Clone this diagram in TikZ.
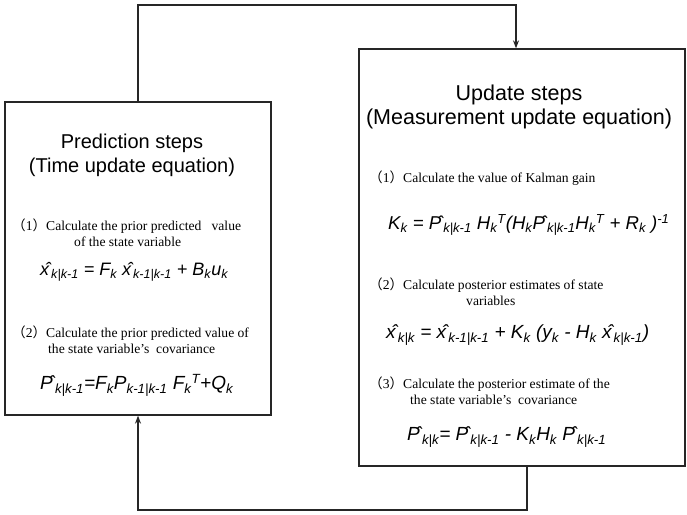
\documentclass[tikz,border=0pt]{standalone}
\usepackage{fontspec}
\setmainfont{Liberation Serif}
\newfontfamily\arialfont{Liberation Sans}
\newfontfamily\cjk{Noto Sans CJK SC}
\usetikzlibrary{arrows.meta, positioning}
\newcommand{\est}[1]{#1\kern-0.22em{\char"02C6}}
\newcommand{\sub}[1]{\textsubscript{#1}}
\newcommand{\sups}[1]{\textsuperscript{#1}}
\newcommand{\stepno}[1]{{\cjk （}#1{\cjk ）}}

\begin{document}
\begin{tikzpicture}[x=1pt, y=-1pt,
    panel/.style={draw=black!85, line width=1.3pt, inner sep=0pt},
    title/.style={font=\arialfont\fontsize{20}{24}\selectfont, align=center, inner sep=0pt},
    desc/.style={font=\fontsize{13.6}{16}\selectfont, align=left, anchor=west, inner sep=0pt},
    formula/.style={font=\arialfont\itshape\fontsize{19}{22}\selectfont, anchor=west, inner sep=0pt},
    arrow/.style={-{Stealth[length=8pt,width=6pt]}, line width=1.3pt, black!85}
]
\useasboundingbox (0,0) rectangle (687,514);
% the two panels
\node[panel, minimum width=266pt, minimum height=313pt] (pred) at (138,258.5) {};
\node[panel, minimum width=326pt, minimum height=417pt] (upd) at (522,257.5) {};
% prediction panel
\node[title] (ptitle) at (132,155) {Prediction steps\\(Time update equation)};
\node[desc] (p1) at (12,233) {\stepno{1}Calculate the prior predicted \ \ value\\\hspace*{62pt}of the state variable};
\node[formula, font=\arialfont\itshape\fontsize{18}{22}\selectfont] (pf1) at (40,272) {\est{x}\sub{k|k-1} = F\sub{k} \est{x}\sub{k-1|k-1} + B\sub{k}u\sub{k}};
\node[desc] (p2) at (12,339.5) {\stepno{2}Calculate the prior predicted value of\\\hspace*{36pt}the state variable's \ covariance};
\node[formula] (pf2) at (40,385) {\est{P}\sub{k|k-1}=F\sub{k}P\sub{k-1|k-1} F\sub{k}\sups{T}+Q\sub{k}};
% update panel
\node[title, font=\arialfont\fontsize{21.5}{24}\selectfont] (utitle) at (519,107) {Update steps\\(Measurement update equation)};
\node[desc] (u1) at (369,178) {\stepno{1}Calculate the value of Kalman gain};
\node[formula, font=\arialfont\itshape\fontsize{18.6}{22}\selectfont] (uf1) at (388,225) {K\sub{k} = \est{P}\sub{k|k-1} H\sub{k}\sups{T}(H\sub{k}\est{P}\sub{k|k-1}H\sub{k}\sups{T} + R\sub{k} )\sups{-1}};
\node[desc] (u2) at (369,292) {\stepno{2}Calculate posterior estimates of state\\\hspace*{97pt}variables};
\node[formula] (uf2) at (386,335) {\est{x}\sub{k|k} = \est{x}\sub{k-1|k-1} + K\sub{k} (y\sub{k} - H\sub{k} \est{x}\sub{k|k-1})};
\node[desc] (u3) at (369,391) {\stepno{3}Calculate the posterior estimate of the\\\hspace*{41pt}the state variable's \ covariance};
\node[formula] (uf3) at (407,437) {\est{P}\sub{k|k}= \est{P}\sub{k|k-1} - K\sub{k}H\sub{k} \est{P}\sub{k|k-1}};
% feedback loops
\coordinate (topr) at (516,5);
\coordinate (botr) at (527,510);
\draw[arrow] (pred.north) |- (topr) -- (upd.north -| topr);
\draw[arrow] (upd.south -| botr) |- (pred.south |- botr) -- (pred.south);
\end{tikzpicture}
\end{document}
